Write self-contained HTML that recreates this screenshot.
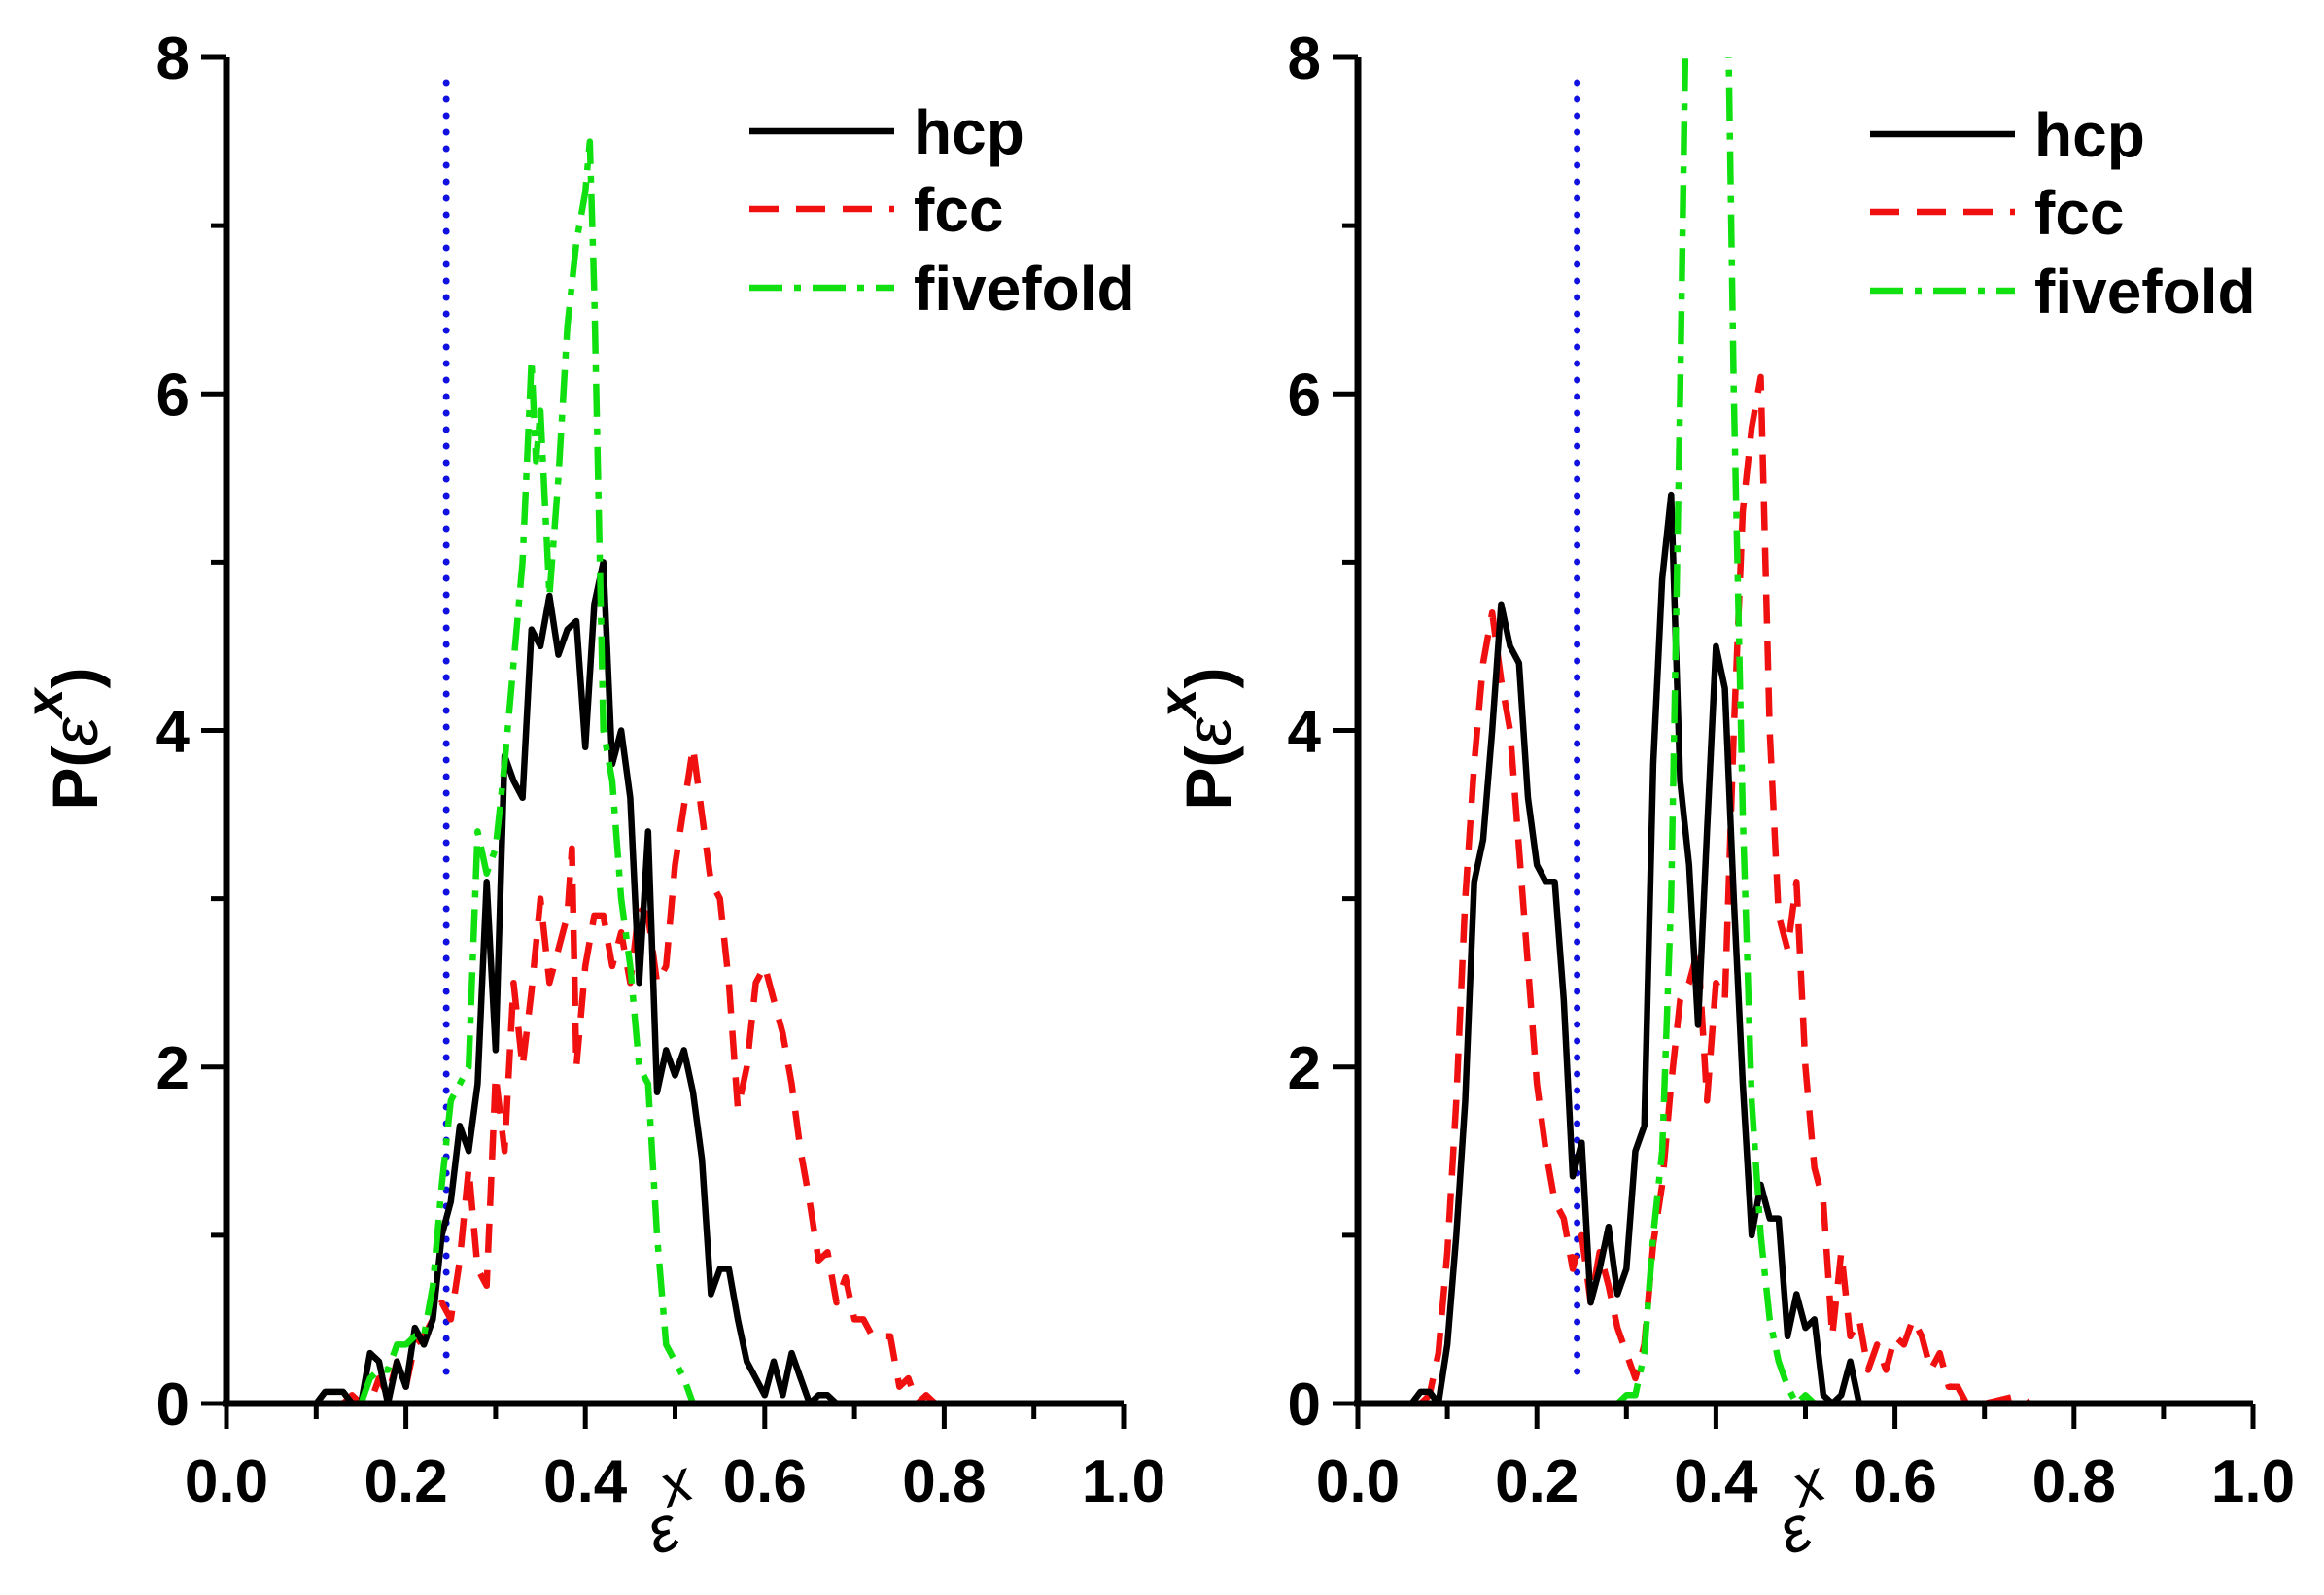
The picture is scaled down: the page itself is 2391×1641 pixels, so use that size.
<!DOCTYPE html>
<html><head><meta charset="utf-8"><style>
html,body{margin:0;padding:0;background:#fff;}
svg{display:block;font-family:"Liberation Sans",Arial,sans-serif;}
</style></head><body>
<svg id="chart" width="2391" height="1641" viewBox="0 0 2391 1641"></svg>
<script>
const xTicks=[0,0.2,0.4,0.6,0.8,1.0];
const xTickLabels=["0.0","0.2","0.4","0.6","0.8","1.0"];
const yTicks=[0,2,4,6,8];
const yTickLabels=["0","2","4","6","8"];
const seriesNames=["hcp","fcc","fivefold"];
const thresholdX=0.245;

const leftHcpX=[0.1,0.11,0.13,0.14,0.15,0.16,0.17,0.18,0.19,0.2,0.21,0.22,0.23,0.24,0.25,0.26,0.27,0.28,0.29,0.3,0.31,0.32,0.33,0.34,0.35,0.36,0.37,0.38,0.39,0.4,0.41,0.42,0.43,0.44,0.45,0.46,0.47,0.48,0.49,0.5,0.51,0.52,0.53,0.54,0.55,0.56,0.57,0.58,0.59,0.6,0.61,0.62,0.63,0.64,0.65,0.66,0.67,0.68];
const leftHcpY=[0,0.07,0.07,0,0,0.3,0.25,0,0.25,0.1,0.45,0.35,0.5,1.0,1.2,1.65,1.5,1.9,3.1,2.1,3.85,3.7,3.6,4.6,4.5,4.8,4.45,4.6,4.65,3.9,4.75,5.0,3.8,4.0,3.6,2.5,3.4,1.85,2.1,1.95,2.1,1.85,1.45,0.65,0.8,0.8,0.5,0.25,0.15,0.05,0.25,0.05,0.3,0.15,0,0.05,0.05,0];
const leftFccX=[0.13,0.14,0.15,0.16,0.17,0.18,0.19,0.2,0.21,0.22,0.23,0.24,0.25,0.26,0.27,0.28,0.29,0.3,0.31,0.32,0.33,0.34,0.35,0.36,0.37,0.38,0.385,0.39,0.4,0.41,0.42,0.43,0.44,0.45,0.46,0.47,0.48,0.49,0.5,0.52,0.53,0.54,0.55,0.56,0.57,0.58,0.59,0.6,0.61,0.62,0.63,0.64,0.65,0.66,0.67,0.68,0.69,0.7,0.71,0.72,0.73,0.74,0.75,0.76,0.77,0.78,0.79];
const leftFccY=[0,0.05,0,0,0.15,0.05,0.25,0.1,0.35,0.4,0.5,0.6,0.5,0.85,1.4,0.8,0.7,1.95,1.5,2.5,2.0,2.45,3.0,2.5,2.7,2.9,3.3,2.0,2.6,2.9,2.9,2.6,2.8,2.5,2.95,2.9,2.5,2.6,3.2,3.9,3.5,3.1,3.0,2.5,1.75,2.0,2.5,2.6,2.4,2.2,1.9,1.5,1.2,0.85,0.9,0.6,0.75,0.5,0.5,0.4,0.4,0.4,0.1,0.15,0,0.05,0];
const leftFiveX=[0.15,0.16,0.17,0.18,0.19,0.2,0.21,0.22,0.23,0.24,0.25,0.26,0.27,0.28,0.29,0.3,0.31,0.32,0.33,0.34,0.345,0.35,0.36,0.37,0.38,0.39,0.4,0.405,0.41,0.42,0.43,0.44,0.45,0.46,0.47,0.48,0.49,0.5,0.51,0.52];
const leftFiveY=[0,0.15,0.2,0.2,0.35,0.35,0.4,0.4,0.7,1.3,1.8,1.9,2.0,3.4,3.15,3.3,3.8,4.4,5.0,6.2,5.6,5.9,4.8,5.5,6.4,6.9,7.2,7.5,6.6,4.0,3.7,3.0,2.6,2.0,1.9,1.0,0.35,0.25,0.15,0];

const rightHcpX=[0.06,0.07,0.08,0.09,0.1,0.11,0.12,0.13,0.14,0.15,0.16,0.17,0.18,0.19,0.2,0.21,0.22,0.23,0.24,0.25,0.26,0.27,0.28,0.29,0.3,0.31,0.32,0.33,0.34,0.35,0.36,0.37,0.38,0.39,0.4,0.41,0.42,0.43,0.44,0.45,0.46,0.47,0.48,0.49,0.5,0.51,0.52,0.53,0.54,0.55,0.56];
const rightHcpY=[0,0.07,0.07,0,0.35,1.0,1.8,3.1,3.35,4.0,4.75,4.5,4.4,3.6,3.2,3.1,3.1,2.4,1.35,1.55,0.6,0.8,1.05,0.65,0.8,1.5,1.65,3.8,4.9,5.4,3.7,3.2,2.25,3.4,4.5,4.25,3.0,1.9,1.0,1.3,1.1,1.1,0.4,0.65,0.45,0.5,0.05,0,0.05,0.25,0];
const rightFccX=[0.07,0.08,0.09,0.1,0.11,0.12,0.13,0.14,0.15,0.16,0.17,0.18,0.19,0.2,0.21,0.22,0.23,0.24,0.25,0.26,0.27,0.28,0.29,0.3,0.31,0.32,0.33,0.34,0.35,0.36,0.37,0.38,0.39,0.4,0.41,0.42,0.43,0.44,0.45,0.46,0.47,0.48,0.49,0.5,0.51,0.52,0.53,0.54,0.55,0.56,0.57,0.58,0.59,0.6,0.61,0.62,0.63,0.64,0.65,0.66,0.67,0.68,0.7,0.74,0.75];
const rightFccY=[0,0.05,0.3,0.9,1.8,3.0,3.8,4.4,4.7,4.3,4.0,3.3,2.6,1.9,1.5,1.2,1.1,0.8,1.0,0.6,0.9,0.7,0.45,0.3,0.15,0.35,0.95,1.3,1.9,2.4,2.5,2.7,1.8,2.5,2.4,4.0,5.3,5.8,6.1,4.0,2.9,2.7,3.1,2.0,1.4,1.2,0.4,0.9,0.4,0.5,0.2,0.35,0.2,0.4,0.35,0.5,0.4,0.2,0.3,0.1,0.1,0,0,0.05,0];
const rightFiveX=[0.29,0.3,0.31,0.32,0.33,0.34,0.35,0.36,0.37,0.39,0.41,0.42,0.43,0.44,0.45,0.46,0.47,0.48,0.49,0.5,0.51];
const rightFiveY=[0,0.05,0.05,0.3,1.0,1.5,3.0,6.0,9.5,14,9.5,6.0,3.5,1.8,1.0,0.5,0.25,0.1,0,0.05,0];

const NS="http://www.w3.org/2000/svg";
const svg=document.getElementById('chart');
function mk(tag,attrs,parent){const e=document.createElementNS(NS,tag);for(const k in attrs)e.setAttribute(k,attrs[k]);(parent||svg).appendChild(e);return e;}

const panels=[
 {id:'left',x0:233,x1:1156,y0:1444,y8:59,leg:{lx0:771,lx1:920,tx:940,ys:[135,215,296]},
  series:[[leftHcpX,leftHcpY],[leftFccX,leftFccY],[leftFiveX,leftFiveY]],xl:[675,1600],yl:[78,760]},
 {id:'right',x0:1397,x1:2318,y0:1444,y8:59,leg:{lx0:1924,lx1:2073,tx:2093,ys:[138,218,299]},
  series:[[rightHcpX,rightHcpY],[rightFccX,rightFccY],[rightFiveX,rightFiveY]],xl:[1840,1600],yl:[1244,760]}
];
const styles=[
 {stroke:'#000',dash:''},
 {stroke:'#f01010',dash:'30,18'},
 {stroke:'#10e010',dash:'34,12,7,12'}
];

panels.forEach(p=>{
 const g=mk('g',{});
 
 
 const sx=v=>p.x0+(p.x1-p.x0)*v;
 const sy=v=>p.y0-(p.y0-p.y8)*v/8;
 const cp=mk('clipPath',{id:'clip-'+p.id},g);
 mk('rect',{x:p.x0,y:p.y8,width:p.x1-p.x0,height:p.y0-p.y8},cp);
 const th=mk('line',{x1:sx(thresholdX),x2:sx(thresholdX),y1:sy(7.85),y2:sy(0.1),stroke:'#1010e0','stroke-width':7,'stroke-dasharray':'0,17','stroke-linecap':'round'},g);
 
 
 const order=[1,0,2];
 order.forEach(i=>{
  const [xs,ys]=p.series[i];
  const pts=xs.map((x,j)=>sx(x).toFixed(1)+','+sy(ys[j]).toFixed(1)).join(' ');
  const pl=mk('polyline',{points:pts,fill:'none',stroke:styles[i].stroke,'stroke-width':6.5,'stroke-dasharray':styles[i].dash,'stroke-linejoin':'round','clip-path':'url(#clip-'+p.id+')'},g);
  
  
 });
 const ax=mk('line',{x1:p.x0-4,x2:p.x1,y1:p.y0,y2:p.y0,stroke:'#000','stroke-width':7},g);
 
 
 const ay=mk('line',{x1:p.x0,x2:p.x0,y1:p.y0+3,y2:p.y8,stroke:'#000','stroke-width':7},g);
 
 
 for(let k=0;k<=10;k++){const v=k/10;const major=k%2===0;
  mk('line',{x1:sx(v),x2:sx(v),y1:p.y0,y2:p.y0+(major?26:16),stroke:'#000','stroke-width':5},g);}
 for(let k=0;k<=8;k++){const major=k%2===0;
  mk('line',{x1:p.x0,x2:p.x0-(major?26:16),y1:sy(k),y2:sy(k),stroke:'#000','stroke-width':5},g);}
 xTicks.forEach((v,i)=>{const t=mk('text',{x:sx(v),y:p.y0+101,'text-anchor':'middle','font-size':62,'font-weight':'bold'},g);t.textContent=xTickLabels[i];
  
  });
 yTicks.forEach((v,i)=>{const t=mk('text',{x:p.x0-38,y:sy(v)+22,'text-anchor':'end','font-size':62,'font-weight':'bold'},g);t.textContent=yTickLabels[i];
  
  });
 const xt=mk('text',{x:p.xl[0],y:p.xl[1],'font-size':66,'font-style':'italic','transform':'rotate(-20 '+p.xl[0]+' '+p.xl[1]+')'},g);
 xt.innerHTML='ε<tspan dy="-42" font-size="60">x</tspan>';
 
 
 const yt=mk('text',{x:0,y:0,'font-size':66,'font-weight':'bold','text-anchor':'middle','transform':'translate('+(p.yl[0]+22)+','+p.yl[1]+') rotate(-90)'},g);
 yt.innerHTML='P(<tspan font-style="italic" font-weight="normal">ε</tspan><tspan dy="-36" font-size="54" font-style="italic">x</tspan><tspan dy="36">)</tspan>';
 
 
 seriesNames.forEach((n,i)=>{
  const y=p.leg.ys[i];
  const lg=mk('g',{},g);
  
  
  mk('line',{x1:p.leg.lx0,x2:p.leg.lx1,y1:y,y2:y,stroke:styles[i].stroke,'stroke-width':6.5,'stroke-dasharray':styles[i].dash},lg);
  const t=mk('text',{x:p.leg.tx,y:y+23,'font-size':64,'font-weight':'bold'},lg);t.textContent=n;
 });
});
</script>
</body></html>
